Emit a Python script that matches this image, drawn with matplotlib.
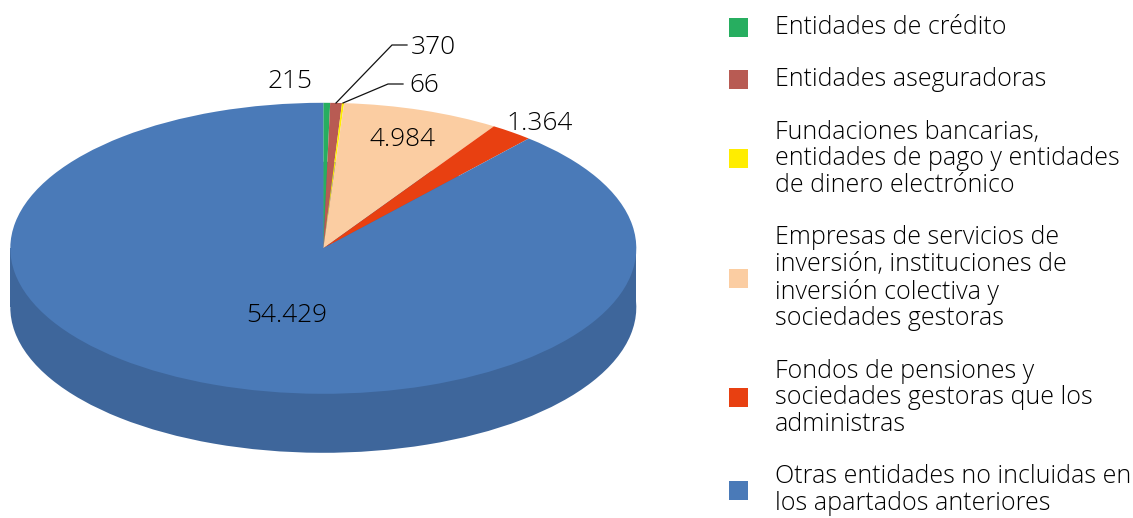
import matplotlib
matplotlib.use("Agg")
import matplotlib.pyplot as plt
from matplotlib.patches import Rectangle

categories = [
    "Entidades de crédito",
    "Entidades aseguradoras",
    "Fundaciones bancarias,\nentidades de pago y entidades\nde dinero electrónico",
    "Empresas de servicios de\ninversión, instituciones de\ninversión colectiva y\nsociedades gestoras",
    "Fondos de pensiones y\nsociedades gestoras que los\nadministras",
    "Otras entidades no incluidas en\nlos apartados anteriores",
]
values = [215, 370, 66, 4984, 1364, 54429]
top_colors = ["#27AE60", "#B85B53", "#FFED00", "#FBCDA2", "#E84011", "#4A7AB8"]
side_color = "#3E669B"

W, H = 1133, 518
CX, CY, RX, RY, DEPTH = 323.3, 248.3, 313.0, 145.5, 59.0

plt.rcParams["font.family"] = ["Open Sans", "DejaVu Sans"]
plt.rcParams["font.weight"] = "light"
fig = plt.figure(figsize=(W / 100, H / 100), dpi=100, facecolor="white")

ax = fig.add_axes([0, 0, 1, 1])
d = DEPTH / RY
ax.pie(values, colors=[side_color] * len(values), startangle=90, counterclock=False,
       center=(0, -d), radius=1, wedgeprops=dict(linewidth=0))
ax.add_patch(Rectangle((-1, -d), 2, d, facecolor=side_color, edgecolor="none"))
wedges, _ = ax.pie(values, colors=top_colors, startangle=90, counterclock=False,
                   center=(0, 0), radius=1, wedgeprops=dict(linewidth=0))
ax.set_aspect("auto")
ax.set_xlim(-CX / RX, (W - CX) / RX)
ax.set_ylim((CY - H) / RY, CY / RY)
ax.axis("off")

ov = fig.add_axes([0, 0, 1, 1], facecolor="none")
ov.set_xlim(0, W)
ov.set_ylim(H, 0)
ov.axis("off")


def es(v):
    return f"{v:,}".replace(",", ".")


label_pos = [(290, 82), (433, 48), (424, 86), (402, 140), (540, 123), (287, 316)]
for v, (x, y) in zip(values, label_pos):
    ov.text(x, y, es(v), ha="center", va="center", fontsize=18.9, color="black")

ov.plot([336, 392, 407], [103, 45, 45], color="#111111", lw=0.9, solid_joinstyle="miter")
ov.plot([343, 388, 403], [103, 84, 84], color="#111111", lw=0.9, solid_joinstyle="miter")

leg = ov.legend(wedges, categories, loc="upper left", bbox_to_anchor=(719 / W, 1 - 5 / H),
                frameon=False, fontsize=18.0, handlelength=0.76, handleheight=0.8,
                handletextpad=1.07, labelspacing=1.09, borderpad=0.4, borderaxespad=0,
                labelcolor="black")
for t in leg.get_texts():
    t.set_linespacing(1.09)
for row in leg.get_children()[0].get_children()[1].get_children()[0].get_children():
    row.align = "center"

fig.savefig("out.png", dpi=100, facecolor="white")
